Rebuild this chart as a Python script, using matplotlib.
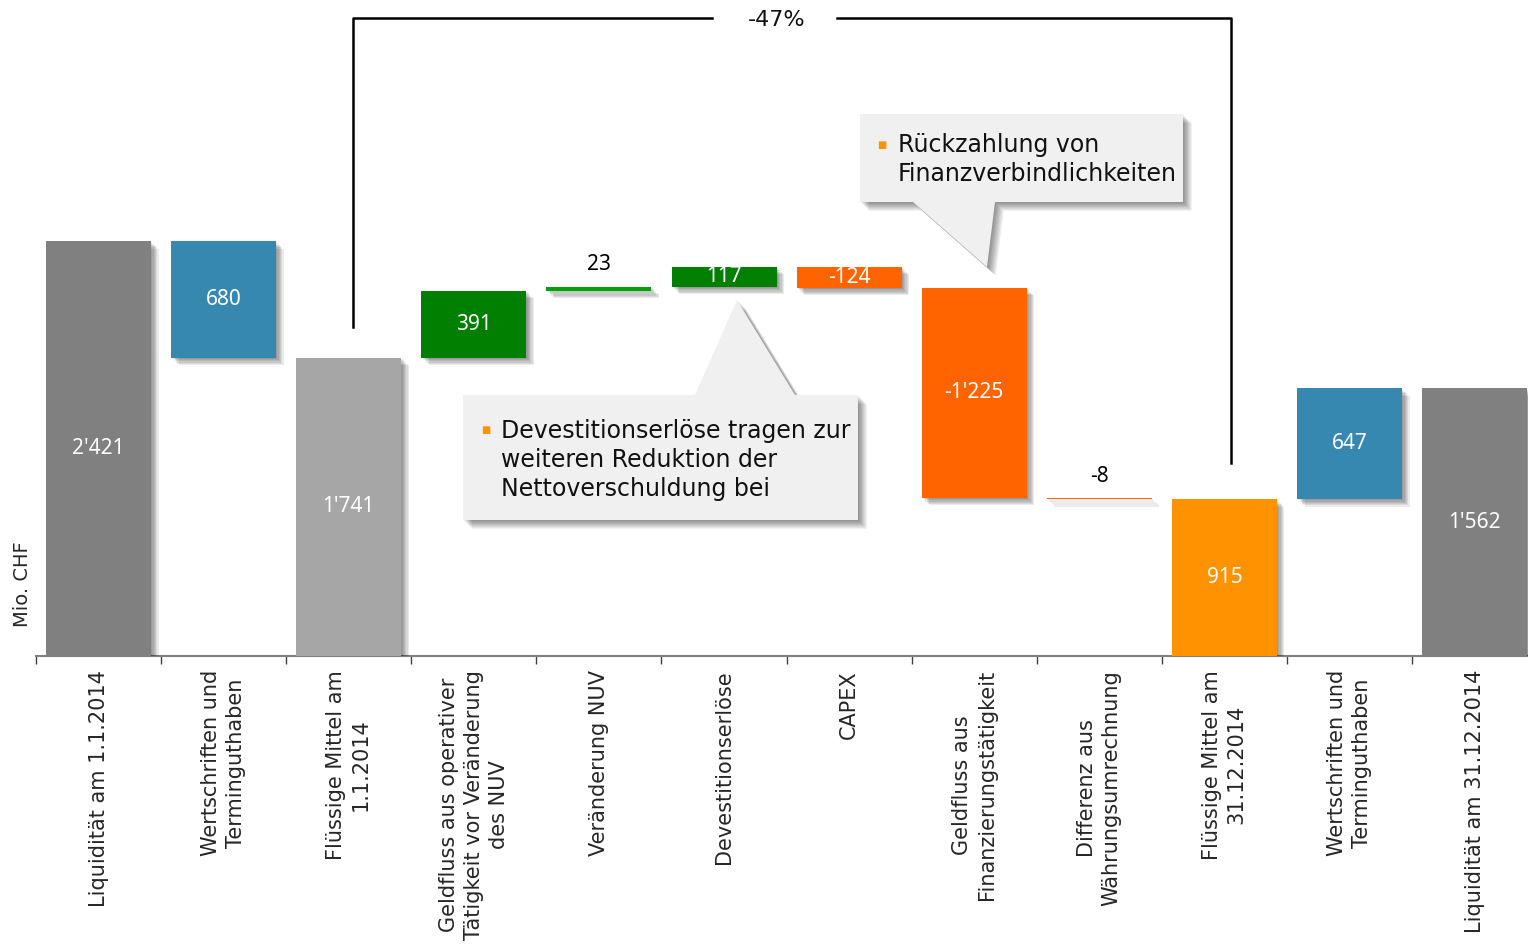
import matplotlib
matplotlib.use("Agg")
import matplotlib.pyplot as plt
import matplotlib.patheffects as pe
from matplotlib.patches import Polygon

plt.rcParams["font.family"] = "DejaVu Sans"

W, H = 1528, 948

categories = [
    "Liquidität am 1.1.2014",
    "Wertschriften und\nTerminguthaben",
    "Flüssige Mittel am\n1.1.2014",
    "Geldfluss aus operativer\nTätigkeit vor Veränderung\ndes NUV",
    "Veränderung NUV",
    "Devestitionserlöse",
    "CAPEX",
    "Geldfluss aus\nFinanzierungstätigkeit",
    "Differenz aus\nWährungsumrechnung",
    "Flüssige Mittel am\n31.12.2014",
    "Wertschriften und\nTerminguthaben",
    "Liquidität am 31.12.2014",
]
values = [2421, -680, 1741, 391, 23, 117, -124, -1225, -8, 915, 647, 1562]
is_total = [True, False, True, False, False, False, False, False, False, True, False, True]

GRAY = "#808080"
LGRAY = "#a6a6a6"
BLUE = "#3788b0"
GREEN = "#007f00"
LGREEN = "#00a000"
RED_OR = "#ff6400"
ORANGE = "#ff9200"
colors = [GRAY, BLUE, LGRAY, GREEN, LGREEN, GREEN, RED_OR, RED_OR, RED_OR, ORANGE, BLUE, GRAY]

change_label = "-47%"
note_devest = "Devestitionserlöse tragen zur\nweiteren Reduktion der\nNettoverschuldung bei"
note_finanz = "Rückzahlung von\nFinanzverbindlichkeiten"


def fmt(v):
    return f"{v:,}".replace(",", "'")


def fxy(px, py):
    # reference pixel -> figure fraction
    return px / W, 1 - py / H


def shadow(alpha=0.08, n=6):
    effects = [pe.SimplePatchShadow(offset=(k * 0.9, -k * 0.9), shadow_rgbFace="black", alpha=alpha)
               for k in range(1, n + 1)]
    return effects + [pe.Normal()]


# waterfall bottoms / heights
bottoms, heights = [], []
running = 0
for v, tot in zip(values, is_total):
    if tot:
        bottoms.append(0)
        heights.append(v)
        running = v
    else:
        bottoms.append(running if v > 0 else running + v)
        heights.append(abs(v))
        running += v

fig = plt.figure(figsize=(W / 100, H / 100), dpi=100)
ax = fig.add_axes([36 / W, 1 - 656 / H, 12 * 125.1 / W, 656 / H])

x = list(range(len(categories)))
bars = ax.bar(x, heights, bottom=bottoms, width=0.84, color=colors, zorder=3)
for b in bars:
    b.set_path_effects(shadow())

for i, (b, v) in enumerate(zip(bars, values)):
    shown = abs(v) if colors[i] == BLUE else v
    if heights[i] < 50:
        ax.annotate(fmt(shown), (i, bottoms[i] + heights[i]), xytext=(0, 8),
                    textcoords="offset points", ha="center", va="bottom",
                    fontsize=15, family="Noto Sans", color="black", zorder=5)
    else:
        ax.text(i, bottoms[i] + heights[i] / 2, fmt(shown), ha="center", va="center",
                fontsize=15, family="Noto Sans", color="white", zorder=5)

ax.set_xlim(-0.5, 11.5)
ax.set_ylim(0, 3827)
for s in ["top", "right", "left"]:
    ax.spines[s].set_visible(False)
ax.spines["bottom"].set_color(GRAY)
ax.spines["bottom"].set_linewidth(1.5)
ax.set_yticks([])
ax.set_xticks(x)
ax.set_xticklabels(categories, rotation=90, ha="center", va="top",
                   multialignment="center", fontsize=15, color="#262626", linespacing=1.3)
ax.tick_params(axis="x", which="major", length=0, pad=10)
ax.set_xticks([i - 0.5 for i in range(13)], minor=True)
ax.tick_params(axis="x", which="minor", length=6, width=1, color="#404040", direction="out")

# -47% bracket between the two "Flüssige Mittel" bars
lw = 1.8
ax.plot([2.03, 2.03, 4.9], [1919, 3722, 3722], color="black", lw=lw, clip_on=False, zorder=4)
ax.plot([5.9, 9.05, 9.05], [3722, 3722, 1126], color="black", lw=lw, clip_on=False, zorder=4)
ax.text(5.42, 3710, change_label, ha="center", va="center", fontsize=16, color="#111111")

# callouts
callouts = [
    ([(463, 395), (695, 395), (737, 300), (795, 395), (858, 395), (858, 520), (463, 520)],
     (486, 430), (501, 460), note_devest),
    ([(860, 114), (1183, 114), (1183, 202), (995, 202), (987, 267), (913, 202), (860, 202)],
     (882, 145), (898, 159.5), note_finanz),
]
for pts, bullet, txt_pos, txt in callouts:
    poly = Polygon([fxy(*p) for p in pts], closed=True, transform=fig.transFigure,
                   facecolor="#f0f0f0", edgecolor="none", zorder=6)
    poly.set_path_effects(shadow(alpha=0.07, n=7))
    fig.add_artist(poly)
    bx, by = fxy(*bullet)
    fig.text(bx, by, "■", color=ORANGE, fontsize=7, ha="center", va="center", zorder=7)
    tx, ty = fxy(*txt_pos)
    fig.text(tx, ty, txt, ha="left", va="center", fontsize=17, color="#111111",
             linespacing=1.28, zorder=7)

yx, yy = fxy(22, 584)
fig.text(yx, yy, "Mio. CHF", rotation=90, ha="center", va="center", fontsize=14, color="#262626")

fig.savefig("out.png", dpi=100)
plt.close(fig)
